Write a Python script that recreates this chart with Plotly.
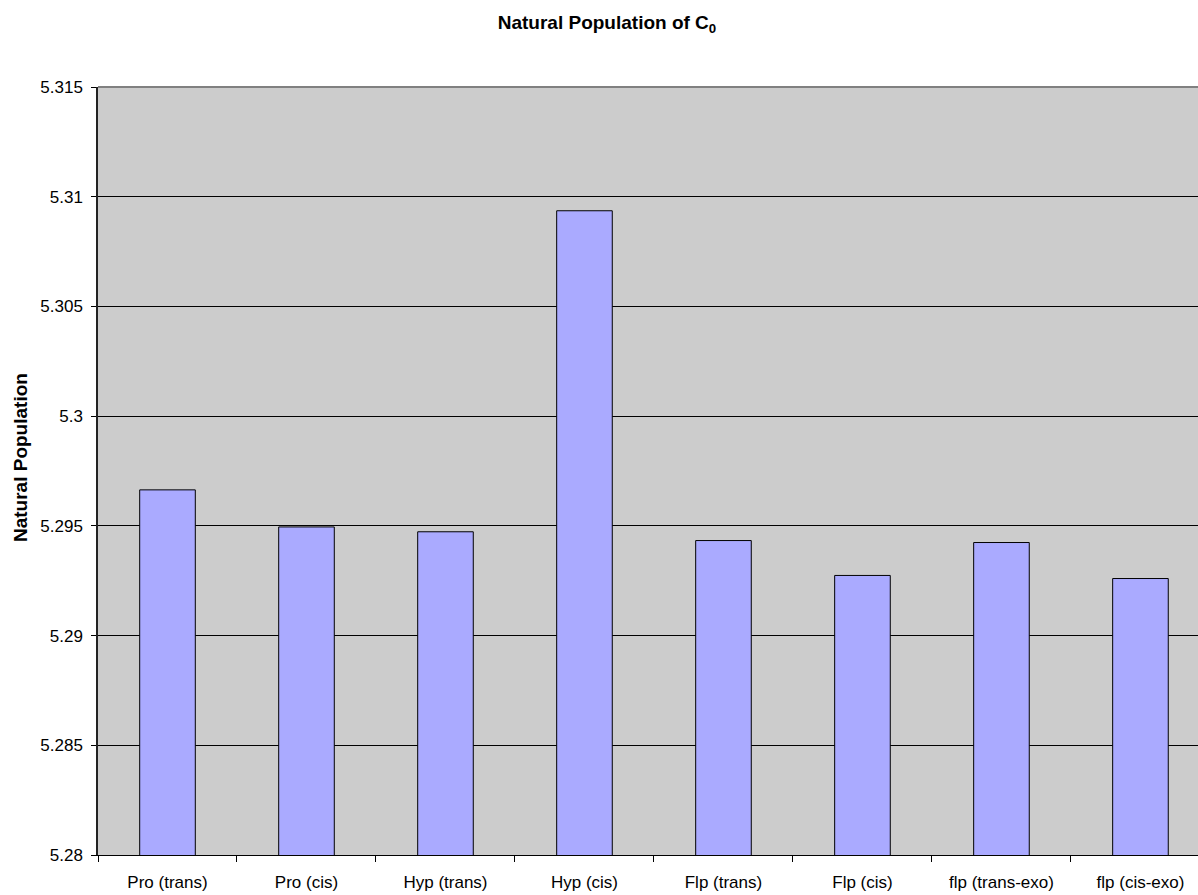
import plotly.graph_objects as go

# Conformer categories and their natural population values
categories = ["Pro (trans)", "Pro (cis)", "Hyp (trans)", "Hyp (cis)",
              "Flp (trans)", "Flp (cis)", "flp (trans-exo)", "flp (cis-exo)"]
population = [5.29664, 5.29495, 5.29473, 5.30936,
              5.29433, 5.29274, 5.29424, 5.29260]
y_ticks = [5.28, 5.285, 5.29, 5.295, 5.30, 5.305, 5.31, 5.315]
y_tick_text = ["5.28", "5.285", "5.29", "5.295", "5.3", "5.305", "5.31", "5.315"]

W, H = 1198, 895
FONT = "Liberation Sans, Arial, sans-serif"

fig = go.Figure()
fig.add_trace(go.Bar(
    x=categories,
    y=population,
    width=0.4,
    marker=dict(color="#AAAAFF", line=dict(color="#000000", width=1)),
    showlegend=False,
))

fig.update_layout(
    width=W, height=H,
    margin=dict(l=98, r=0, t=87, b=40),
    paper_bgcolor="white",
    plot_bgcolor="#CCCCCC",
    font=dict(family=FONT, size=17, color="black"),
    title=dict(
        text="<b>Natural Population of C<sub>0</sub></b>",
        font=dict(family=FONT, size=19, color="black"),
        xref="container", yref="container",
        x=607 / W, y=1 - 22 / H,
        xanchor="center", yanchor="middle",
    ),
    bargap=0.6,
)

fig.update_xaxes(
    range=[-0.5, 7.414],
    showgrid=False,
    showline=True, linecolor="black", linewidth=1,
    ticks="outside", tickson="boundaries", ticklen=6, tickcolor="black",
    ticklabelstandoff=12,
    tickfont=dict(family=FONT, size=17, color="black"),
)

fig.update_yaxes(
    range=[5.28, 5.315],
    tickvals=y_ticks, ticktext=y_tick_text,
    showgrid=True, gridcolor="black", gridwidth=1,
    showline=True, linecolor="#222222", linewidth=1.5,
    ticks="outside", ticklen=5, tickcolor="black",
    ticklabelstandoff=5,
    tickfont=dict(family=FONT, size=17, color="black"),
    zeroline=False,
)

# Grey border along the top of the plot area
fig.add_shape(type="line", xref="paper", yref="paper",
              x0=0, x1=1, y0=1, y1=1,
              line=dict(color="#808080", width=2))

# Vertical axis title
fig.add_annotation(
    text="<b>Natural Population</b>",
    xref="paper", yref="paper",
    x=(20 - 98) / (W - 98), y=(H - 40 - 458) / (H - 40 - 87),
    xanchor="center", yanchor="middle",
    textangle=-90, showarrow=False,
    font=dict(family=FONT, size=19, color="black"),
)

fig.write_html("out.html")
